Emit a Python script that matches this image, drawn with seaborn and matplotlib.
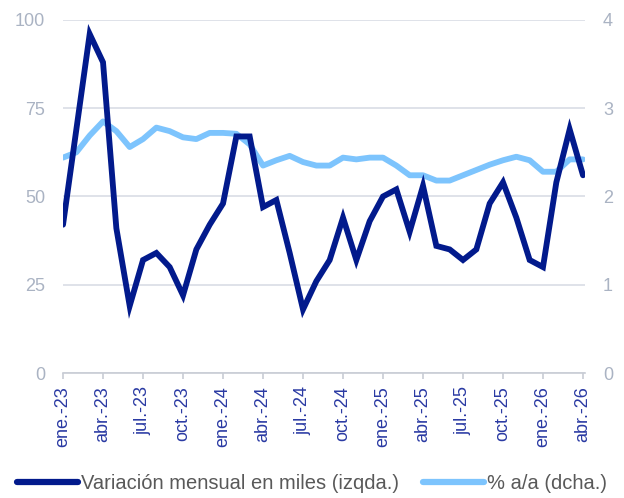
import matplotlib

matplotlib.use('Agg')
import matplotlib.pyplot as plt
from matplotlib.lines import Line2D
import numpy as np
import pandas as pd
import seaborn as sns

sns.set_theme(style='white')
plt.rcParams['font.family'] = ['Liberation Sans', 'DejaVu Sans']

# %% Data (monthly, ene.-23 .. abr.-26)

MONTHS = pd.date_range('2023-01-01', periods=40, freq='MS')
VARIACION_MENSUAL = [42, 69, 96, 88, 41, 19, 32, 34, 30, 22,
                     35, 42, 48, 67, 67, 47, 49, 34, 18, 26,
                     32, 44, 32, 43, 50, 52, 40, 53, 36, 35,
                     32, 35, 48, 54, 44, 32, 30, 54, 69, 56]
TASA_ANUAL = [2.44, 2.50, 2.69, 2.85, 2.74, 2.56, 2.65, 2.78, 2.74, 2.67,
              2.65, 2.72, 2.72, 2.71, 2.59, 2.35, 2.41, 2.46, 2.39, 2.35,
              2.35, 2.44, 2.42, 2.44, 2.44, 2.35, 2.24, 2.24, 2.18, 2.18,
              2.24, 2.30, 2.36, 2.41, 2.45, 2.41, 2.28, 2.28, 2.42, 2.42]
TICK_LABELS = ['ene.-23', 'abr.-23', 'jul.-23', 'oct.-23',
               'ene.-24', 'abr.-24', 'jul.-24', 'oct.-24',
               'ene.-25', 'abr.-25', 'jul.-25', 'oct.-25',
               'ene.-26', 'abr.-26']
LABEL_MENSUAL = 'Variación mensual en miles (izqda.)'
LABEL_ANUAL = '% a/a (dcha.)'

df = pd.DataFrame({'pos': np.arange(len(MONTHS)),
                   'mensual': VARIACION_MENSUAL,
                   'anual': TASA_ANUAL})

DARK = '#021a8c'
LIGHT = '#7dc4fd'
GRID = '#d9dde5'
YTICK = '#aab3c3'
XTICK = '#2a3aa3'
TEXT = '#595959'

# %% Plot

fig = plt.figure(figsize=(6.24, 4.98), dpi=100)
ax = fig.add_axes([0.101, 0.251, 0.8365, 0.709])
ax2 = ax.twinx()

sns.lineplot(data=df, x='pos', y='anual', ax=ax2, color=LIGHT,
             linewidth=4.2, legend=False)
sns.lineplot(data=df, x='pos', y='mensual', ax=ax, color=DARK,
             linewidth=4.2, legend=False)
# dark line above light one
ax.set_zorder(ax2.get_zorder() + 1)
ax.patch.set_visible(False)
ax.lines[0].set_solid_joinstyle('miter')

ax.set_xlim(0, 39.15)
ax.set_ylim(0, 100)
ax.set_yticks([0, 25, 50, 75, 100])
ax2.set_ylim(0, 4)
ax2.set_yticks([0, 1, 2, 3, 4])

ax2.grid(False)
ax2.yaxis.grid(True, color=GRID, linewidth=1.2)
ax2.set_axisbelow(True)

ax.set_xticks(df['pos'][::3])
ax.set_xticklabels(TICK_LABELS, rotation=90, fontsize=13, color=XTICK)
ax.set_xlabel('')
ax.set_ylabel('')
ax2.set_ylabel('')

for a in (ax, ax2):
    for side in ('top', 'left', 'right', 'bottom'):
        a.spines[side].set_visible(False)
    a.tick_params(axis='y', length=0, pad=13, labelsize=13, labelcolor=YTICK)

ax.spines['bottom'].set_visible(True)
ax.spines['bottom'].set_color('#c8ccd4')
ax.spines['bottom'].set_linewidth(1.2)
ax.tick_params(axis='x', length=4.5, width=1.2, color='#c8ccd4',
               direction='out', pad=5, bottom=True)

handles = [Line2D([], [], color=DARK, linewidth=4.5, solid_capstyle='round'),
           Line2D([], [], color=LIGHT, linewidth=4.5, solid_capstyle='round')]
fig.legend(handles, [LABEL_MENSUAL, LABEL_ANUAL], loc='center',
           bbox_to_anchor=(0.5, 0.03), ncol=2, frameon=False,
           fontsize=14.5, labelcolor=TEXT, handlelength=3.0,
           handletextpad=0.15, columnspacing=1.2)

fig.savefig('out.png', dpi=100)
plt.close(fig)
